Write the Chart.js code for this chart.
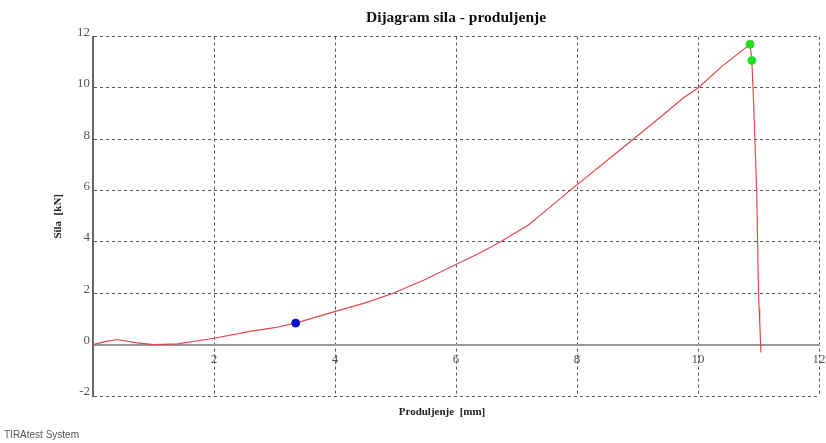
<!DOCTYPE html>
<html>
<head>
<meta charset="utf-8">
<script src="https://cdn.jsdelivr.net/npm/chart.js@4/dist/chart.umd.min.js"></script>
<style>
  html, body { margin: 0; padding: 0; background: #fff; }
  #wrap { position: relative; width: 826px; height: 443px; }
</style>
</head>
<body>
<div id="wrap"><canvas id="c" width="826" height="443"></canvas></div>
<script>
// Elongation [mm] and force [kN]
const elongation = [0, 0.2, 0.4, 0.7, 1.0, 1.4, 2.0, 2.6, 3.0, 3.35, 3.92, 4.5, 4.96, 5.5, 5.98, 6.4, 6.73, 7.19, 7.5, 7.88, 8.93, 9.5, 9.75, 10.0, 10.4, 10.86, 10.89, 10.91, 10.94, 10.97, 11.0, 11.01, 11.02, 11.04];
const force      = [0, 0.12, 0.2, 0.08, 0.0, 0.03, 0.25, 0.52, 0.66, 0.84, 1.24, 1.63, 2.0, 2.55, 3.1, 3.58, 4.0, 4.65, 5.25, 6.0, 8.0, 9.1, 9.6, 10.0, 10.85, 11.7, 11.07, 10.0, 8.0, 5.95, 2.0, 1.4, 0.9, -0.3];
const bluePointX = [3.35];
const bluePointY = [0.84];
const greenPointsX = [10.86, 10.89];
const greenPointsY = [11.7, 11.07];
const xTicks = [0, 2, 4, 6, 8, 10, 12];
const yTicks = [-2, 0, 2, 4, 6, 8, 10, 12];
const chartTitle = 'Dijagram sila - produljenje';
const xTitle = 'Produljenje  [mm]';
const yTitle = 'Sila  [kN]';
const footer = 'TIRAtest System';

const toXY = (xs, ys) => xs.map((x, i) => ({ x: x, y: ys[i] }));

const textPlugin = {
  id: 'texts',
  afterDraw(chart) {
    const ctx = chart.ctx;
    const ca = chart.chartArea;
    ctx.save();
    ctx.fillStyle = '#222';
    ctx.font = 'bold 11px "Liberation Serif", serif';
    ctx.textAlign = 'center';
    ctx.textBaseline = 'middle';
    ctx.fillText(xTitle, (ca.left + ca.right) / 2 - 14, 412);
    ctx.fillStyle = '#555';
    ctx.font = '10px "Liberation Sans", Arial, sans-serif';
    ctx.textAlign = 'left';
    ctx.fillText(footer, 4, 435);
    ctx.restore();
  }
};

new Chart(document.getElementById('c'), {
  type: 'scatter',
  data: {
    datasets: [
      {
        data: toXY(elongation, force),
        showLine: true,
        borderColor: '#e2474a',
        borderWidth: 1.2,
        pointRadius: 0,
        tension: 0,
        order: 3
      },
      {
        data: toXY(bluePointX, bluePointY),
        backgroundColor: '#1010d0',
        borderColor: '#1010d0',
        pointRadius: 4,
        order: 1
      },
      {
        data: toXY(greenPointsX, greenPointsY),
        backgroundColor: '#22dd22',
        borderColor: '#22dd22',
        pointRadius: 4,
        order: 1
      }
    ]
  },
  options: {
    responsive: false,
    animation: false,
    layout: { padding: { left: 0, right: 7, top: 0, bottom: 47 } },
    plugins: {
      legend: { display: false },
      tooltip: { enabled: false },
      title: {
        display: true,
        text: chartTitle,
        fullSize: false,
        color: '#111',
        font: { family: '"Liberation Serif", serif', size: 15.5, weight: 'bold' },
        padding: { top: 9, bottom: 9 }
      }
    },
    scales: {
      x: {
        type: 'linear',
        min: 0, max: 12,
        position: { y: 0 },
        afterBuildTicks: (s) => { s.ticks = xTicks.map(v => ({ value: v })); },
        afterFit: (s) => { s.paddingRight = 0; s.paddingLeft = 0; },
        ticks: {
          color: '#555',
          font: { family: '"Liberation Serif", serif', size: 13 },
          padding: 7,
          maxRotation: 0,
          callback: (v) => (v === 0 ? '' : v)
        },
        grid: { color: '#555', lineWidth: 1, drawTicks: false },
        border: { display: true, color: '#999', width: 2, dash: [3, 3] }
      },
      y: {
        type: 'linear',
        min: -2, max: 12,
        position: 'left',
        afterBuildTicks: (s) => { s.ticks = yTicks.map(v => ({ value: v })); },
        afterFit: (s) => { s.width = 93; },
        ticks: {
          color: '#555',
          font: { family: '"Liberation Serif", serif', size: 13 },
          padding: 3,
          labelOffset: -4
        },
        title: {
          display: true,
          text: yTitle,
          color: '#222',
          font: { family: '"Liberation Serif", serif', size: 11, weight: 'bold' },
          padding: { top: 52, bottom: 0 }
        },
        grid: { color: '#555', lineWidth: 1, drawTicks: false },
        border: { display: true, color: '#666', width: 2, dash: [3, 3] }
      }
    }
  },
  plugins: [textPlugin]
});
</script>
</body>
</html>
